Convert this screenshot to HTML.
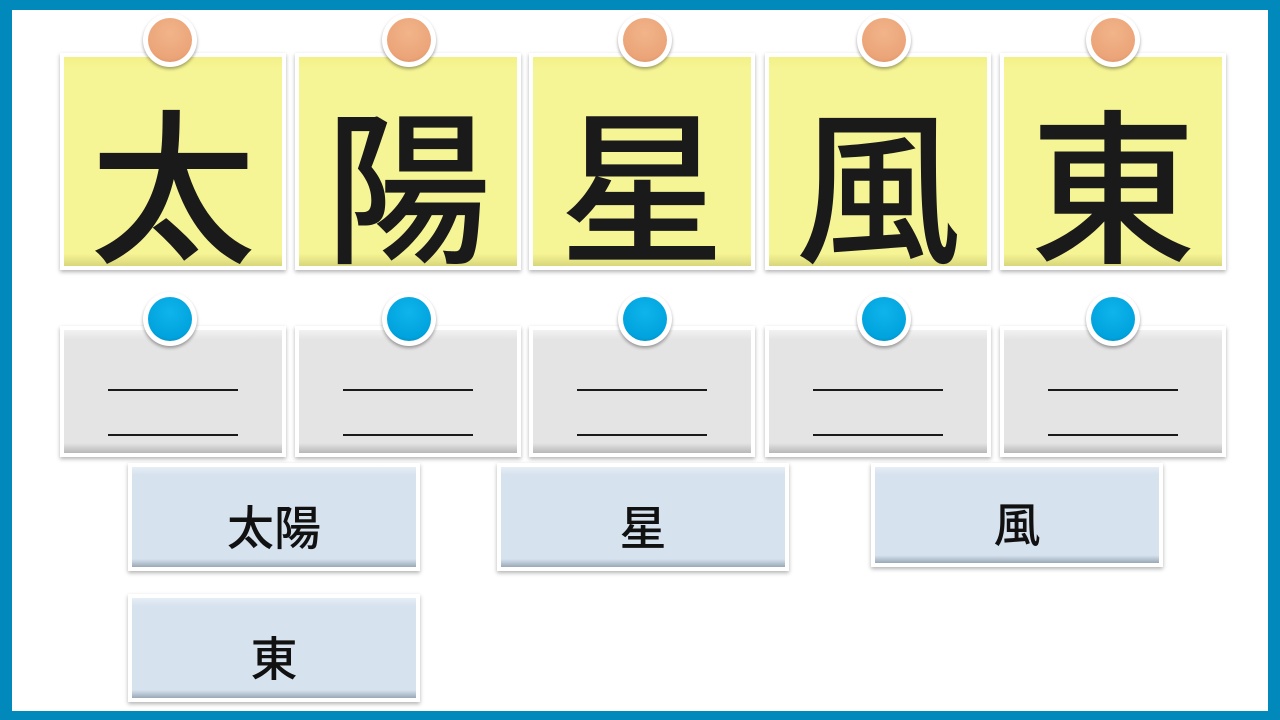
<!DOCTYPE html>
<html><head><meta charset="utf-8"><style>
*{margin:0;padding:0;box-sizing:border-box}
body{width:1280px;height:720px;overflow:hidden;background:#0089BA;position:relative;font-family:"Liberation Sans","Noto Sans CJK JP",sans-serif}
.in{position:absolute;left:12px;top:10px;width:1256px;height:701px;background:#fff}
.card{position:absolute;border:4px solid #fff;box-shadow:0 2px 4px rgba(0,0,0,.3)}
.y{top:53px;height:217px;width:226px;background:linear-gradient(#f3f088,#f6f595 6%,#f6f595 94%,#d8d67a);}
.g{top:326px;height:131px;width:226px;background:linear-gradient(#f2f2f2,#e4e4e4 8%,#e4e4e4 92%,#b8b8b8)}
.b{width:292px;background:linear-gradient(#e6eef6,#d6e2ee 8%,#d6e2ee 92%,#9aa8b6)}
.big{position:absolute;left:0;right:0;top:42px;text-align:center;font-size:166px;line-height:190px;color:#1a1a1a;font-weight:500}
.ln{position:absolute;left:44px;width:130px;height:2px;background:#1a1a1a}
.pin{position:absolute;width:54px;height:54px;border-radius:50%;background:#fff;box-shadow:0 2px 3px rgba(0,0,0,.35)}
.pin i{position:absolute;left:5px;top:5px;width:44px;height:44px;border-radius:50%}
.o i{background:radial-gradient(circle at 50% 35%,#f2b48a,#eba478 70%,#c8845a)}
.bl i{background:radial-gradient(circle at 50% 35%,#10b4ec,#00a3dd 70%,#0077a8)}
.t{position:absolute;left:0;right:0;text-align:center;font-size:47px;color:#111;font-weight:500}
</style></head><body>
<div class="in"></div>
<div class="card y" style="left:60px"><div class="big">太</div></div>
<div class="card y" style="left:295px"><div class="big">陽</div></div>
<div class="card y" style="left:529px"><div class="big">星</div></div>
<div class="card y" style="left:765px"><div class="big">風</div></div>
<div class="card y" style="left:1000px"><div class="big">東</div></div>
<div class="pin o" style="left:143px;top:13px"><i></i></div>
<div class="pin o" style="left:382px;top:13px"><i></i></div>
<div class="pin o" style="left:618px;top:13px"><i></i></div>
<div class="pin o" style="left:857px;top:13px"><i></i></div>
<div class="pin o" style="left:1086px;top:13px"><i></i></div>

<div class="card g" style="left:60px"><div class="ln" style="top:59px"></div><div class="ln" style="top:104px"></div></div>
<div class="card g" style="left:295px"><div class="ln" style="top:59px"></div><div class="ln" style="top:104px"></div></div>
<div class="card g" style="left:529px"><div class="ln" style="top:59px"></div><div class="ln" style="top:104px"></div></div>
<div class="card g" style="left:765px"><div class="ln" style="top:59px"></div><div class="ln" style="top:104px"></div></div>
<div class="card g" style="left:1000px"><div class="ln" style="top:59px"></div><div class="ln" style="top:104px"></div></div>
<div class="pin bl" style="left:143px;top:292px"><i></i></div>
<div class="pin bl" style="left:382px;top:292px"><i></i></div>
<div class="pin bl" style="left:618px;top:292px"><i></i></div>
<div class="pin bl" style="left:857px;top:292px"><i></i></div>
<div class="pin bl" style="left:1086px;top:292px"><i></i></div>

<div class="card b" style="left:128px;top:463px;height:108px"><div class="t" style="top:32px;line-height:60px">太陽</div></div>
<div class="card b" style="left:497px;top:463px;height:108px"><div class="t" style="top:32px;line-height:60px">星</div></div>
<div class="card b" style="left:871px;top:463px;height:104px"><div class="t" style="top:29px;line-height:60px">風</div></div>
<div class="card b" style="left:128px;top:594px;height:108px"><div class="t" style="top:32px;line-height:60px">東</div></div>
</body></html>
